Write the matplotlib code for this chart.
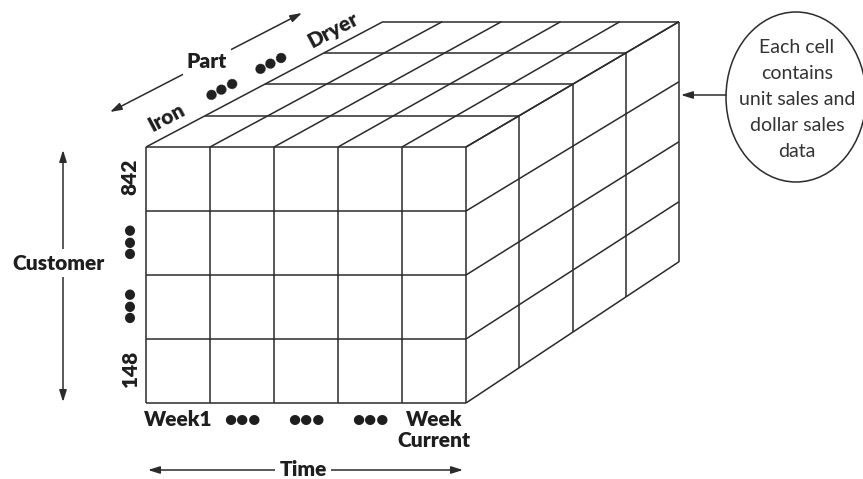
import numpy as np
import matplotlib.pyplot as plt
from matplotlib.patches import Ellipse

# cube dimensions (cells along each axis)
n_time = 5
n_customer = 4
n_part = 4

time_labels = ["Week1", "•••", "•••", "•••", "Week\nCurrent"]
customer_labels = ["842", "•••", "•••", "148"]
part_labels = ["Iron", "•••", "•••", "Dryer"]
part_depth = [0.12, 0.35, 0.56, 0.82]   # where each part label sits along the edge
note_lines = ["Each cell", "contains", "unit sales and", "dollar sales", "data"]

LINE = "#2b2b2b"
TXT = "#1e1e1e"
BOLD = dict(family=["Lato", "DejaVu Sans"], weight="heavy", color=TXT)
FS = 15

# front face and back face corners, in pixels
FX0, FX1, FY0, FY1 = 146, 466, 147, 403
BX0, BX1, BY0, BY1 = 383, 679, 21.7, 261.7


def pt(u, v, d):
    # u: along time (0 left, 1 right), v: customer (0 top), d: depth (0 front)
    x = (1 - d) * (FX0 + u * (FX1 - FX0)) + d * (BX0 + u * (BX1 - BX0))
    y = (1 - d) * (FY0 + v * (FY1 - FY0)) + d * (BY0 + v * (BY1 - BY0))
    return x, y


def seg(ax, a, b):
    ax.plot([a[0], b[0]], [a[1], b[1]], color=LINE, lw=1.1, solid_capstyle="butt")


fig = plt.figure(figsize=(8.63, 4.79), dpi=100)
ax = fig.add_axes([0, 0, 1, 1])
ax.set_xlim(0, 863)
ax.set_ylim(479, 0)
ax.axis("off")

# front face
for i in range(n_time + 1):
    seg(ax, pt(i / n_time, 0, 0), pt(i / n_time, 1, 0))
for j in range(n_customer + 1):
    seg(ax, pt(0, j / n_customer, 0), pt(1, j / n_customer, 0))

# top face
for i in range(n_time + 1):
    seg(ax, pt(i / n_time, 0, 0), pt(i / n_time, 0, 1))
for k in range(1, n_part + 1):
    seg(ax, pt(0, 0, k / n_part), pt(1, 0, k / n_part))

# right face
for j in range(n_customer + 1):
    seg(ax, pt(1, j / n_customer, 0), pt(1, j / n_customer, 1))
for k in range(1, n_part + 1):
    seg(ax, pt(1, 0, k / n_part), pt(1, 1, k / n_part))

# time labels under front columns
for i, lab in enumerate(time_labels):
    x, _ = pt((i + 0.5) / n_time, 1, 0)
    ax.text(x, 410, lab, ha="center", va="top", fontsize=FS, linespacing=1.15, **BOLD)

# customer labels left of front rows
for j, lab in enumerate(customer_labels):
    _, y = pt(0, (j + 0.5) / n_customer, 0)
    ax.text(130, y - 2, lab, ha="center", va="center", rotation=90, fontsize=FS, **BOLD)

# part labels along top-left edge
ex, ey = BX0 - FX0, BY0 - FY0
elen = np.hypot(ex, ey)
nx, ny = ey / elen, -ex / elen   # normal pointing up-left
ang = np.degrees(np.arctan2(-ey, ex))
for d, lab in zip(part_depth, part_labels):
    x, y = pt(0, 0, d)
    ax.text(x + 16.5 * nx, y + 16.5 * ny, lab, ha="center", va="center", rotation=ang,
            rotation_mode="anchor", fontsize=FS, **BOLD)

arrow = dict(arrowstyle="<|-|>,head_length=0.7,head_width=0.22", color=LINE,
             lw=1.1, shrinkA=0, shrinkB=0)
white = dict(facecolor="white", edgecolor="none", pad=3)

# Part axis
ax.annotate("", xy=(110, 112), xytext=(302, 13), arrowprops=arrow)
ax.text(207, 61, "Part", ha="center", va="center", fontsize=FS, bbox=white, **BOLD)

# Customer axis
ax.annotate("", xy=(63, 150), xytext=(63, 402), arrowprops=arrow)
ax.text(58, 263, "Customer", ha="center", va="center", fontsize=FS, bbox=white, **BOLD)

# Time axis
ax.annotate("", xy=(148, 470), xytext=(463, 470), arrowprops=arrow)
ax.text(303, 469, "Time", ha="center", va="center", fontsize=FS, bbox=white, **BOLD)

# note bubble
ax.add_patch(Ellipse((796, 97), 140, 170, fill=False, ec=LINE, lw=1.1))
for n, line in enumerate(note_lines):
    ax.text(797, 47 + n * 26.2, line, ha="center", va="center", fontsize=14,
            family=["Lato", "DejaVu Sans"], weight="normal", color="#333333")
ax.annotate("", xy=(681, 95), xytext=(726, 95),
            arrowprops=dict(arrowstyle="-|>,head_length=0.7,head_width=0.22",
                            color=LINE, lw=1.1, shrinkA=0, shrinkB=0))

fig.savefig("out.png", dpi=100)
